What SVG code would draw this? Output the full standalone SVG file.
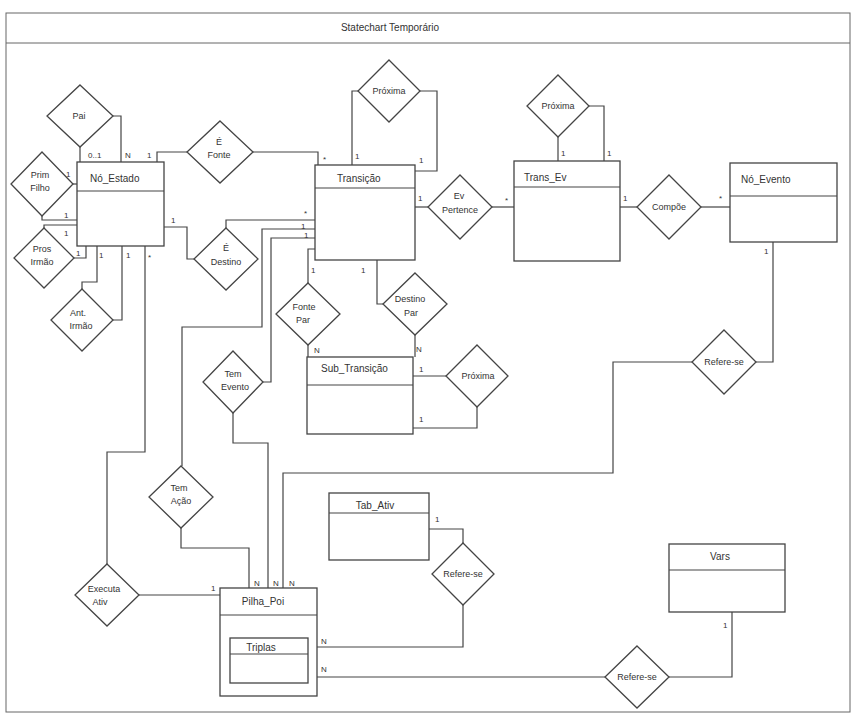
<svg xmlns="http://www.w3.org/2000/svg" width="853" height="719" viewBox="0 0 853 719">
<style>
.f{fill:none;stroke:#666;stroke-width:1}
.b{fill:#fff;stroke:#444;stroke-width:1.3}
.h{fill:none;stroke:#444;stroke-width:1.1}
.d{fill:#fff;stroke:#444;stroke-width:1.3}
.c{fill:none;stroke:#444;stroke-width:1.2}
text{font-family:"Liberation Sans",Arial,sans-serif;fill:#333}
.t{font-size:10px}
.dl{font-size:9px;text-anchor:middle}
.m{font-size:8px}
</style>
<rect width="853" height="719" fill="#fff"/>
<g id="frame">
<rect class="f" x="6" y="13" width="844" height="699"/>
<line class="f" x1="6" y1="43" x2="850" y2="43" stroke-width="1.3"/>
<text class="t" x="390" y="31" text-anchor="middle">Statechart Temporário</text>
</g>
<g id="connectors">
<polyline class="c" points="80,147 80,162"/>
<polyline class="c" points="113,116 121,116 121,162"/>
<polyline class="c" points="187,152 157,152 157,162"/>
<polyline class="c" points="73,184 77,184"/>
<polyline class="c" points="42,216 42,220 77,220"/>
<polyline class="c" points="44,228 44,225 77,225"/>
<polyline class="c" points="74,258 86,258 86,246"/>
<polyline class="c" points="82,289 82,282 97,282 97,246"/>
<polyline class="c" points="113,320 122,320 122,246"/>
<polyline class="c" points="145,246 145,452 107,452 107,564"/>
<polyline class="c" points="164,227 187,227 187,259 194,259"/>
<polyline class="c" points="253,152 318,152 318,165"/>
<polyline class="c" points="226,228 226,220 315,220"/>
<polyline class="c" points="315,229 262,229 262,327 182,327 182,466"/>
<polyline class="c" points="315,238 271,238 271,382 263,382"/>
<polyline class="c" points="315,249 308,249 308,283"/>
<polyline class="c" points="377,260 377,304 383,304"/>
<polyline class="c" points="358,91 352,91 352,165"/>
<polyline class="c" points="420,91 437,91 437,171 415,171"/>
<polyline class="c" points="415,207 428,207"/>
<polyline class="c" points="492,207 514,207"/>
<polyline class="c" points="558,137 558,161"/>
<polyline class="c" points="589,106 604,106 604,161"/>
<polyline class="c" points="620,207 637,207"/>
<polyline class="c" points="701,207 730,207"/>
<polyline class="c" points="773,242 773,362 756,362"/>
<polyline class="c" points="692,362 613,362 613,473 283,473 283,588"/>
<polyline class="c" points="233,413 233,443 268,443 268,588"/>
<polyline class="c" points="181,528 181,548 249,548 249,588"/>
<polyline class="c" points="139,595 220,595"/>
<polyline class="c" points="429,529 463,529 463,543"/>
<polyline class="c" points="463,605 463,647 308,647"/>
<polyline class="c" points="605,677 308,677"/>
<polyline class="c" points="669,677 732,677 732,612"/>
<polyline class="c" points="220,647 230,647"/>
<polyline class="c" points="308,345 308,357"/>
<polyline class="c" points="415,335 415,357"/>
<polyline class="c" points="446,376 413,376"/>
<polyline class="c" points="477,407 477,428 413,428"/>
<g class="m">
<text x="88" y="158">0..1</text>
<text x="125" y="158">N</text>
<text x="147" y="158">1</text>
<text x="66" y="177">1</text>
<text x="64" y="218">1</text>
<text x="64" y="236">1</text>
<text x="76" y="256">1</text>
<text x="99" y="258">1</text>
<text x="126" y="258">1</text>
<text x="148" y="260">*</text>
<text x="171" y="223">1</text>
<text x="323" y="162">*</text>
<text x="304" y="216">*</text>
<text x="301" y="229">1</text>
<text x="304" y="238">1</text>
<text x="311" y="273">1</text>
<text x="361" y="273">1</text>
<text x="355" y="159">1</text>
<text x="419" y="163">1</text>
<text x="418" y="201">1</text>
<text x="505" y="203">*</text>
<text x="561" y="156">1</text>
<text x="607" y="156">1</text>
<text x="623" y="201">1</text>
<text x="719" y="201">*</text>
<text x="764" y="254">1</text>
<text x="314" y="353">N</text>
<text x="416" y="352">N</text>
<text x="419" y="372">1</text>
<text x="419" y="422">1</text>
<text x="254" y="586">N</text>
<text x="273" y="586">N</text>
<text x="289" y="586">N</text>
<text x="211" y="591">1</text>
<text x="435" y="522">1</text>
<text x="321" y="644">N</text>
<text x="321" y="672">N</text>
<text x="221" y="651">N</text>
<text x="723" y="628">1</text>
</g>
</g>
<g id="no_estado">
<rect class="b" x="77" y="162" width="87" height="84"/>
<line class="h" x1="77" y1="191" x2="164" y2="191"/>
<text class="t" x="90" y="182">Nó_Estado</text>
</g>
<g id="transicao">
<rect class="b" x="315" y="165" width="100" height="95"/>
<line class="h" x1="315" y1="188" x2="415" y2="188"/>
<text class="t" x="337" y="182">Transição</text>
</g>
<g id="trans_ev">
<rect class="b" x="514" y="161" width="106" height="100"/>
<line class="h" x1="514" y1="187" x2="620" y2="187"/>
<text class="t" x="524" y="181">Trans_Ev</text>
</g>
<g id="no_evento">
<rect class="b" x="730" y="163" width="107" height="79"/>
<line class="h" x1="730" y1="196" x2="837" y2="196"/>
<text class="t" x="741" y="183">Nó_Evento</text>
</g>
<g id="sub_transicao">
<rect class="b" x="307" y="357" width="106" height="77"/>
<line class="h" x1="307" y1="385" x2="413" y2="385"/>
<text class="t" x="321" y="372">Sub_Transição</text>
</g>
<g id="tab_ativ">
<rect class="b" x="329" y="493" width="100" height="67"/>
<line class="h" x1="329" y1="513" x2="429" y2="513"/>
<text class="t" x="375" y="509" text-anchor="middle">Tab_Ativ</text>
</g>
<g id="vars">
<rect class="b" x="669" y="544" width="116" height="68"/>
<line class="h" x1="669" y1="570" x2="785" y2="570"/>
<text class="t" x="720" y="560" text-anchor="middle">Vars</text>
</g>
<g id="pilha_poi">
<rect class="b" x="220" y="588" width="97" height="108"/>
<line class="h" x1="220" y1="615" x2="317" y2="615"/>
<text class="t" x="263" y="605" text-anchor="middle">Pilha_Poi</text>
</g>
<g id="triplas">
<rect class="b" x="230" y="638" width="78" height="45"/>
<line class="h" x1="230" y1="654" x2="308" y2="654" stroke="#888"/>
<text class="t" x="261" y="651" text-anchor="middle">Triplas</text>
</g>
<g id="pai"><polygon class="d" points="80,85 113,116 80,147 47,116"/><text class="dl" x="79" y="119">Pai</text></g>
<g id="prim_filho"><polygon class="d" points="42,152 73,184 42,216 11,184"/><text class="dl" x="40" y="178">Prim</text><text class="dl" x="40" y="191">Filho</text></g>
<g id="pros_irmao"><polygon class="d" points="44,228 74,258 44,288 14,258"/><text class="dl" x="42" y="252">Pros</text><text class="dl" x="42" y="265">Irmão</text></g>
<g id="ant_irmao"><polygon class="d" points="82,289 113,320 82,351 51,320"/><text class="dl" x="78" y="316">Ant.</text><text class="dl" x="81" y="329">Irmão</text></g>
<g id="e_fonte"><polygon class="d" points="220,121 253,152 220,183 187,152"/><text class="dl" x="219" y="145">É</text><text class="dl" x="219" y="158">Fonte</text></g>
<g id="e_destino"><polygon class="d" points="226,228 258,259 226,290 194,259"/><text class="dl" x="226" y="251">É</text><text class="dl" x="226" y="265">Destino</text></g>
<g id="proxima_transicao"><polygon class="d" points="389,60 420,91 389,122 358,91"/><text class="dl" x="389" y="94">Próxima</text></g>
<g id="ev_pertence"><polygon class="d" points="460,175 492,207 460,239 428,207"/><text class="dl" x="459" y="199">Ev</text><text class="dl" x="460" y="213">Pertence</text></g>
<g id="proxima_trans_ev"><polygon class="d" points="558,75 589,106 558,137 527,106"/><text class="dl" x="558" y="109">Próxima</text></g>
<g id="compoe"><polygon class="d" points="669,175 701,207 669,239 637,207"/><text class="dl" x="669" y="210">Compõe</text></g>
<g id="fonte_par"><polygon class="d" points="308,283 340,314 308,345 276,314"/><text class="dl" x="304" y="310">Fonte</text><text class="dl" x="303" y="323">Par</text></g>
<g id="destino_par"><polygon class="d" points="415,273 447,304 415,335 383,304"/><text class="dl" x="410" y="302">Destino</text><text class="dl" x="411" y="316">Par</text></g>
<g id="tem_evento"><polygon class="d" points="233,351 263,382 233,413 203,382"/><text class="dl" x="233" y="377">Tem</text><text class="dl" x="235" y="390">Evento</text></g>
<g id="proxima_sub"><polygon class="d" points="477,345 508,376 477,407 446,376"/><text class="dl" x="478" y="379">Próxima</text></g>
<g id="refere_se_evento"><polygon class="d" points="724,330 756,362 724,394 692,362"/><text class="dl" x="724" y="365">Refere-se</text></g>
<g id="tem_acao"><polygon class="d" points="181,466 213,497 181,528 149,497"/><text class="dl" x="179" y="491">Tem</text><text class="dl" x="181" y="504">Ação</text></g>
<g id="executa_ativ"><polygon class="d" points="107,564 139,595 107,626 75,595"/><text class="dl" x="104" y="592">Executa</text><text class="dl" x="100" y="605">Ativ</text></g>
<g id="refere_se_ativ"><polygon class="d" points="463,543 494,574 463,605 432,574"/><text class="dl" x="463" y="577">Refere-se</text></g>
<g id="refere_se_vars"><polygon class="d" points="637,646 669,677 637,708 605,677"/><text class="dl" x="637" y="680">Refere-se</text></g>
</svg>
